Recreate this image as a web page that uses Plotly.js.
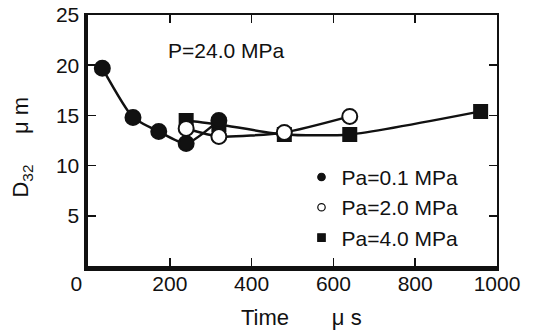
<!DOCTYPE html>
<html>
<head>
<meta charset="utf-8">
<script src="https://cdn.plot.ly/plotly-3.0.1.min.js"></script>
<style>
  html, body { margin: 0; padding: 0; background: #fff; }
  #chart { width: 537px; height: 333px; }
</style>
</head>
<body>
<div id="chart"></div>
<script>
// Sauter mean diameter D32 versus time after injection, P = 24.0 MPa
const seriesNames = ['Pa=0.1 MPa', 'Pa=2.0 MPa', 'Pa=4.0 MPa'];

const timeLow = [35, 110, 173, 240, 320];
const d32Low = [19.7, 14.8, 13.4, 12.2, 14.5];

const timeMid = [240, 320, 480, 640];
const d32Mid = [13.7, 12.9, 13.3, 14.9];

const timeHigh = [240, 320, 480, 640, 960];
const d32High = [14.5, 14.1, 13.1, 13.1, 15.4];

const xTickVals = [0, 200, 400, 600, 800, 1000];
const xTickText = ['0\u2007\u2007', '200', '400', '600', '800', '1000'];
const yTickVals = [5, 10, 15, 20, 25];

const font = 'Liberation Sans, Arial, Helvetica, sans-serif';
const black = '#111';

function lineTrace(x, y) {
  return {
    x: x, y: y, mode: 'lines', showlegend: false, hoverinfo: 'skip',
    line: { color: black, width: 2.5, shape: 'spline', smoothing: 0.6 }
  };
}
function markerTrace(x, y, name, symbol, fill, rank) {
  return {
    x: x, y: y, mode: 'markers', name: name, legendrank: rank,
    marker: { symbol: symbol, size: symbol === 'square' ? 13 : 15, color: fill,
              line: { color: black, width: 2 } }
  };
}

const traces = [
  lineTrace(timeHigh, d32High),
  lineTrace(timeLow, d32Low),
  lineTrace(timeMid, d32Mid),
  markerTrace(timeHigh, d32High, seriesNames[2], 'square', black, 3),
  markerTrace(timeLow, d32Low, seriesNames[0], 'circle', black, 1),
  markerTrace(timeMid, d32Mid, seriesNames[1], 'circle', '#fff', 2),
  // carrier for the thin top/right frame axes
  { x: [], y: [], xaxis: 'x2', yaxis: 'y2', mode: 'markers', showlegend: false }
];

const layout = {
  width: 537, height: 333,
  margin: { l: 88, r: 40, t: 15, b: 67 },
  paper_bgcolor: '#fff', plot_bgcolor: '#fff',
  font: { family: font, size: 21, color: black },
  showlegend: true,
  legend: {
    x: 0.522, y: 0.435, xanchor: 'left', yanchor: 'top',
    bgcolor: 'rgba(0,0,0,0)', font: { family: font, size: 21, color: black },
    itemsizing: 'constant', tracegroupgap: 0,
    traceorder: 'normal'
  },
  xaxis: {
    range: [0, 1000], tickvals: xTickVals, ticktext: xTickText,
    showgrid: false, zeroline: false,
    showline: true, linecolor: black, linewidth: 4.5,
    ticks: 'inside', ticklen: 8, tickwidth: 1.5, tickcolor: black,
    tickfont: { family: font, size: 21, color: black }, ticklabelstandoff: -5
  },
  yaxis: {
    range: [0, 25], tickvals: yTickVals,
    showgrid: false, zeroline: false,
    showline: true, linecolor: black, linewidth: 4.5,
    ticks: 'inside', ticklen: 8, tickwidth: 1.5, tickcolor: black,
    tickfont: { family: font, size: 21, color: black }
  },
  xaxis2: {
    range: [0, 1000], overlaying: 'x', side: 'top', anchor: 'y2',
    tickvals: xTickVals, showticklabels: false,
    showgrid: false, zeroline: false,
    showline: true, linecolor: black, linewidth: 1.8,
    ticks: 'inside', ticklen: 8, tickwidth: 1.5, tickcolor: black
  },
  yaxis2: {
    range: [0, 25], overlaying: 'y', side: 'right', anchor: 'x2',
    tickvals: yTickVals, showticklabels: false,
    showgrid: false, zeroline: false,
    showline: true, linecolor: black, linewidth: 1.8,
    ticks: 'inside', ticklen: 8, tickwidth: 1.5, tickcolor: black
  },
  annotations: [
    { text: 'P=24.0 MPa', xref: 'paper', yref: 'paper', x: 0.19, y: 0.86,
      xanchor: 'left', yanchor: 'middle', showarrow: false,
      font: { family: font, size: 21, color: black } },
    { text: 'Time\u00A0\u00A0\u00A0\u00A0\u00A0\u00A0\u00A0μ s', xref: 'paper', yref: 'paper',
      x: 0.523, y: -0.205, xanchor: 'center', yanchor: 'middle', showarrow: false,
      font: { family: font, size: 22, color: black } },
    { text: 'D<sub>32</sub>\u00A0\u00A0\u00A0\u00A0\u00A0μ m', xref: 'paper', yref: 'paper',
      x: -0.162, y: 0.475, xanchor: 'center', yanchor: 'middle', textangle: -90,
      showarrow: false, font: { family: font, size: 22, color: black } }
  ]
};

Plotly.newPlot('chart', traces, layout, { staticPlot: true, displayModeBar: false })
  .then(function (gd) {
    // smaller symbols in the legend than on the plot
    gd.querySelectorAll('.legend .legendpoints path').forEach(function (p) {
      const t = p.getAttribute('transform') || '';
      p.setAttribute('transform', t + ' scale(0.62)');
    });
  });
</script>
</body>
</html>
